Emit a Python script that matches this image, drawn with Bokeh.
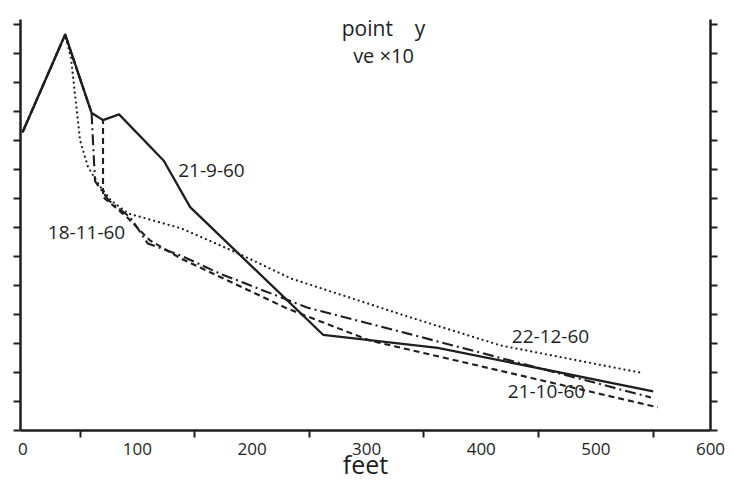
from bokeh.plotting import figure
from bokeh.models import Range1d, LinearAxis, FixedTicker, Label
from bokeh.embed import file_html
from bokeh.resources import INLINE

# ---- data (feet, vertical units; vertical exaggeration x10) ----
sep21_x = [0, 37, 60, 70, 84, 123, 146, 262, 362, 550]
sep21_y = [10.3, 13.65, 10.95, 10.7, 10.9, 9.3, 7.7, 3.3, 2.85, 1.35]

oct21_x = [0, 37, 60, 70, 70, 91, 111, 138, 231, 303, 554]
oct21_y = [10.3, 13.65, 10.95, 10.7, 8.05, 7.35, 6.55, 5.93, 4.2, 3.1, 0.8]

nov18_x = [0, 37, 60, 63, 75, 94, 109, 138, 172, 248, 336, 548]
nov18_y = [10.3, 13.65, 10.95, 8.6, 7.93, 7.34, 6.45, 6.03, 5.41, 4.24, 3.34, 1.14]

dec22_x = [0, 37, 42, 50, 57, 68, 77, 92, 138, 186, 234, 338, 417, 542]
dec22_y = [10.3, 13.65, 12.86, 10.0, 9.07, 8.38, 7.93, 7.48, 6.97, 6.14, 5.24, 3.9, 2.93, 1.97]

x_ticks = [0, 100, 200, 300, 400, 500, 600]
x_minor = [50, 150, 250, 350, 450, 550]
y_ticks = list(range(15))

labels = ["21-9-60", "18-11-60", "22-12-60", "21-10-60"]
label_x = [164.6, 55.6, 460.4, 456.9]
label_y = [8.97, 6.83, 3.24, 1.34]

FONT = "Open Sans"
INK = "#1e1e1e"

p = figure(width=734, height=491, x_range=Range1d(-2, 600), y_range=Range1d(0, 14.17),
           output_backend="svg", toolbar_location=None,
           min_border_left=20, min_border_right=24, min_border_top=19, min_border_bottom=61)
p.grid.visible = False
p.outline_line_color = None
p.background_fill_color = "white"

# bottom axis
xa = p.xaxis[0]
xa.ticker = FixedTicker(ticks=x_ticks, minor_ticks=x_minor)
xa.axis_line_color = INK
xa.axis_line_width = 2.5
xa.major_tick_out = 0
xa.major_tick_in = 0
xa.minor_tick_out = 7
xa.minor_tick_in = 0
xa.minor_tick_line_width = 2
xa.minor_tick_line_color = INK
xa.major_label_text_font = FONT
xa.major_label_text_font_size = "17px"
xa.major_label_text_color = INK
xa.major_label_standoff = 5
xa.axis_label = "feet"
xa.axis_label_text_font = FONT
xa.axis_label_text_font_size = "25px"
xa.axis_label_text_font_style = "normal"
xa.axis_label_text_color = INK
xa.axis_label_standoff = -11

def style_y(ax):
    # only tick marks, no tick labels
    ax.ticker = FixedTicker(ticks=[], minor_ticks=y_ticks)
    ax.axis_line_color = INK
    ax.axis_line_width = 2.5
    ax.major_tick_out = 0
    ax.major_tick_in = 0
    ax.minor_tick_out = 7
    ax.minor_tick_in = 0
    ax.minor_tick_line_width = 2
    ax.minor_tick_line_color = INK
    ax.major_label_standoff = 0

style_y(p.yaxis[0])
ra = LinearAxis()
style_y(ra)
p.add_layout(ra, "right")

# profiles
p.line(sep21_x, sep21_y, line_color=INK, line_width=2.3, line_join="round")
p.line(oct21_x, oct21_y, line_color=INK, line_width=2.1, line_dash="6 4")
p.line(nov18_x, nov18_y, line_color=INK, line_width=2.1, line_dash="11 4 2 4")
p.line(dec22_x, dec22_y, line_color=INK, line_width=2.3, line_dash="0 5", line_cap="round")

# texts
p.add_layout(Label(x=314.7, y=13.86, text="point\u00a0\u00a0\u00a0\u00a0y", text_font=FONT,
                   text_font_size="21px", text_color=INK, text_align="center",
                   text_baseline="middle"))
p.add_layout(Label(x=314.7, y=12.93, text="ve ×10", text_font=FONT, text_font_size="20px",
                   text_color=INK, text_align="center", text_baseline="middle"))
for t, lx, ly in zip(labels, label_x, label_y):
    p.add_layout(Label(x=lx, y=ly, text=t, text_font=FONT, text_font_size="19px",
                       text_color=INK, text_align="center", text_baseline="middle"))

open("out.html", "w").write(file_html(p, INLINE))
